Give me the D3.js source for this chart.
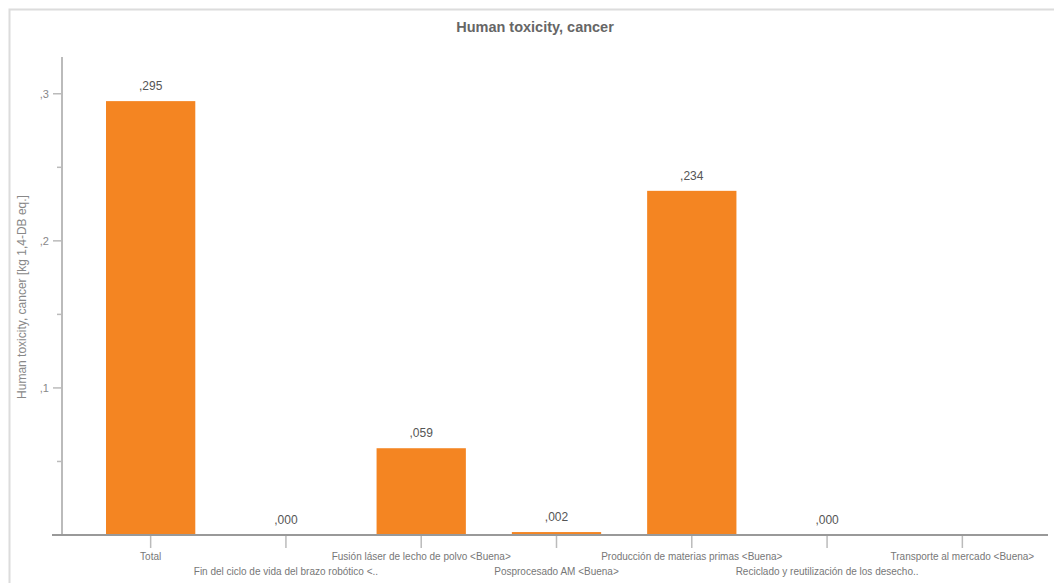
<!DOCTYPE html>
<html>
<head>
<meta charset="utf-8">
<script src="https://cdn.jsdelivr.net/npm/d3@7/dist/d3.min.js"></script>
<style>
  html, body { margin: 0; padding: 0; background: #fff; }
  svg { display: block; font-family: "Liberation Sans", Arial, sans-serif; }
</style>
</head>
<body>
<svg id="chart" width="1054" height="583"></svg>
<script>
// Impact category results per life-cycle stage
const categories = [
  "Total",
  "Fin del ciclo de vida del brazo robótico <..",
  "Fusión láser de lecho de polvo <Buena>",
  "Posprocesado AM <Buena>",
  "Producción de materias primas <Buena>",
  "Reciclado y reutilización de los desecho..",
  "Transporte al mercado <Buena>"
];
const values = [0.295, 0.0, 0.059, 0.002, 0.234, 0.0, null];
const valueLabels = [",295", ",000", ",059", ",002", ",234", ",000", ""];
const majorTicks = [0.1, 0.2, 0.3];
const majorTickLabels = [",1", ",2", ",3"];
const minorTicks = [0.05, 0.15, 0.25];

const chartTitle = "Human toxicity, cancer";
const yTitle = "Human toxicity, cancer [kg 1,4-DB eq.]";

const svg = d3.select("#chart");

// outer frame
svg.append("rect")
  .attr("x", 9.5).attr("y", 9.5)
  .attr("width", 1060).attr("height", 600)
  .attr("fill", "none").attr("stroke", "#dcdcdc").attr("stroke-width", 2);

const y = d3.scaleLinear().domain([0, 0.325]).range([535, 57]);
const x = d3.scaleBand().domain(categories).range([83, 1030])
  .paddingInner(0.34).paddingOuter(0.17);

// title
svg.append("text")
  .attr("x", 535).attr("y", 32)
  .attr("text-anchor", "middle")
  .attr("font-size", 14.5).attr("font-weight", "bold")
  .attr("fill", "#666")
  .text(chartTitle);

// y axis title
svg.append("text")
  .attr("transform", "translate(26,297) rotate(-90)")
  .attr("text-anchor", "middle")
  .attr("font-size", 12).attr("fill", "#888")
  .text(yTitle);

// bars
svg.append("g").selectAll("rect")
  .data(categories.map((c, i) => ({ c, v: values[i] })).filter(d => d.v !== null && d.v > 0))
  .join("rect")
  .attr("x", d => x(d.c))
  .attr("width", x.bandwidth())
  .attr("y", d => y(d.v))
  .attr("height", d => y(0) - y(d.v))
  .attr("fill", "#f48522");

// value labels
svg.append("g").selectAll("text")
  .data(categories.map((c, i) => ({ c, v: values[i], t: valueLabels[i] })).filter(d => d.v !== null))
  .join("text")
  .attr("x", d => x(d.c) + x.bandwidth() / 2)
  .attr("y", d => y(d.v) - 11)
  .attr("text-anchor", "middle")
  .attr("font-size", 12).attr("fill", "#555")
  .text(d => d.t);

// y axis
const yAxis = svg.append("g").attr("transform", "translate(62,0)");
yAxis.append("line")
  .attr("x1", 0).attr("x2", 0).attr("y1", 57).attr("y2", 535)
  .attr("stroke", "#bbb").attr("stroke-width", 2);
yAxis.selectAll(".major").data(majorTicks).join("line")
  .attr("x1", -9).attr("x2", 0)
  .attr("y1", d => y(d)).attr("y2", d => y(d))
  .attr("stroke", "#bbb").attr("stroke-width", 1.5);
yAxis.selectAll(".minor").data(minorTicks).join("line")
  .attr("x1", -5).attr("x2", 0)
  .attr("y1", d => y(d)).attr("y2", d => y(d))
  .attr("stroke", "#bbb").attr("stroke-width", 1.5);
yAxis.selectAll("text").data(majorTicks).join("text")
  .attr("x", -13).attr("y", d => y(d) + 4)
  .attr("text-anchor", "end")
  .attr("font-size", 11).attr("fill", "#888")
  .text((d, i) => majorTickLabels[i]);

// x axis
const xAxis = svg.append("g");
xAxis.append("line")
  .attr("x1", 52).attr("x2", 1048).attr("y1", 535).attr("y2", 535)
  .attr("stroke", "#999").attr("stroke-width", 2);
xAxis.selectAll(".tick").data(categories).join("line")
  .attr("x1", d => x(d) + x.bandwidth() / 2)
  .attr("x2", d => x(d) + x.bandwidth() / 2)
  .attr("y1", 536).attr("y2", 548)
  .attr("stroke", "#bbb").attr("stroke-width", 1.5);
xAxis.selectAll("text").data(categories).join("text")
  .attr("x", d => x(d) + x.bandwidth() / 2)
  .attr("y", (d, i) => i % 2 === 0 ? 560 : 575)
  .attr("text-anchor", "middle")
  .attr("font-size", 10).attr("fill", "#777")
  .text(d => d);
</script>
</body>
</html>
